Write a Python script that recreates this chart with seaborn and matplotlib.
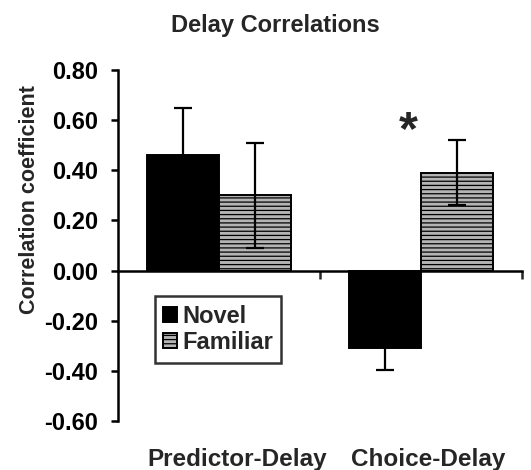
import matplotlib
matplotlib.use("Agg")
import matplotlib.pyplot as plt
import matplotlib.transforms as mtransforms
import numpy as np
import pandas as pd
import seaborn as sns

# Correlation of delay activity with each task epoch, by stimulus type
conditions = ["Predictor-Delay", "Choice-Delay"]
groups = ["Novel", "Familiar"]
novel_r = [0.46, -0.31]
familiar_r = [0.30, 0.39]
novel_err = [0.19, 0.085]
familiar_err = [0.21, 0.13]
yticks = [-0.60, -0.40, -0.20, 0.00, 0.20, 0.40, 0.60, 0.80]

df = pd.DataFrame({
    "condition": conditions * 2,
    "group": [groups[0]] * 2 + [groups[1]] * 2,
    "r": novel_r + familiar_r,
    "err": novel_err + familiar_err,
})

sns.set_theme(style="white")
plt.rcParams["font.family"] = ["Liberation Sans", "DejaVu Sans"]
plt.rcParams["font.weight"] = "bold"
plt.rcParams["hatch.linewidth"] = 0.9
plt.rcParams["hatch.color"] = "#4a4a4a"

fig = plt.figure(figsize=(5.31, 4.70), dpi=100)
ax = fig.add_axes([0.222, 0.104, 0.761, 0.747])

sns.barplot(data=df, x="condition", y="r", hue="group", order=conditions,
            hue_order=groups, palette=["black", "#b4b4b4"], width=0.71,
            edgecolor="black", linewidth=1.4, errorbar=None, legend=False,
            saturation=1, ax=ax)

# Texture on the familiar bars
for patch in ax.containers[1].patches:
    patch.set_hatch("----")

# Error bars centred on each bar
for cont, g in zip(ax.containers, groups):
    sub = df[df["group"] == g].set_index("condition").loc[conditions]
    xs = [p.get_x() + p.get_width() / 2 for p in cont.patches]
    ax.errorbar(xs, sub["r"].values, yerr=sub["err"].values, fmt="none",
                ecolor="black", elinewidth=1.6, capsize=6.5, capthick=1.6,
                zorder=5)

ax.set_ylim(-0.6, 0.8)
ax.set_xlim(-0.5, 1.5)
ax.set_yticks(yticks)
ax.set_yticklabels([f"{v:.2f}" for v in yticks], fontsize=17, fontweight="bold")
ax.tick_params(axis="y", direction="out", length=5, width=1.8, pad=9,
               left=True, colors="black")

# Horizontal axis line through zero, ticks at category boundaries
ax.spines["bottom"].set_position(("data", 0))
ax.spines["top"].set_visible(False)
ax.spines["right"].set_visible(False)
for s in ("left", "bottom"):
    ax.spines[s].set_linewidth(1.8)
    ax.spines[s].set_color("black")
ax.set_xticks([0.5, 1.5])
ax.set_xticklabels([])
ax.tick_params(axis="x", direction="out", length=6, width=1.8, bottom=True)
ax.set_xlabel("")

# Category names along the bottom edge
sec = ax.secondary_xaxis(0.0)
sec.set_xticks([0, 1])
sec.set_xticklabels(conditions, fontsize=17.5, fontweight="bold")
sec.tick_params(length=0, pad=19)
sec.spines["bottom"].set_visible(False)
offsets = [18, 7]
for lab, dx in zip(sec.get_xticklabels(), offsets):
    lab.set_transform(lab.get_transform() +
                      mtransforms.ScaledTranslation(dx / 100, 0, fig.dpi_scale_trans))

ax.set_ylabel("Correlation coefficient", fontsize=15.5, fontweight="bold")
ax.yaxis.set_label_coords(-0.192, 0.63)

# Significance marker
ax.text(0.935, 0.555, "*", fontsize=35, fontweight="bold", ha="center", va="center")

handles = [ax.containers[0].patches[0], ax.containers[1].patches[0]]
leg = ax.legend(handles, groups, loc="upper left", bbox_to_anchor=(0.092, 0.355),
                borderaxespad=0, frameon=True, fancybox=False,
                prop={"size": 17, "weight": "bold"},
                handlelength=0.6, handleheight=0.6, handletextpad=0.2,
                borderpad=0.35, labelspacing=0.15)
leg.get_frame().set_edgecolor("black")
leg.get_frame().set_linewidth(1.8)

fig.text(0.518, 0.945, "Delay Correlations", fontsize=17, fontweight="bold",
         ha="center", va="center")

fig.savefig("out.png", dpi=100)
